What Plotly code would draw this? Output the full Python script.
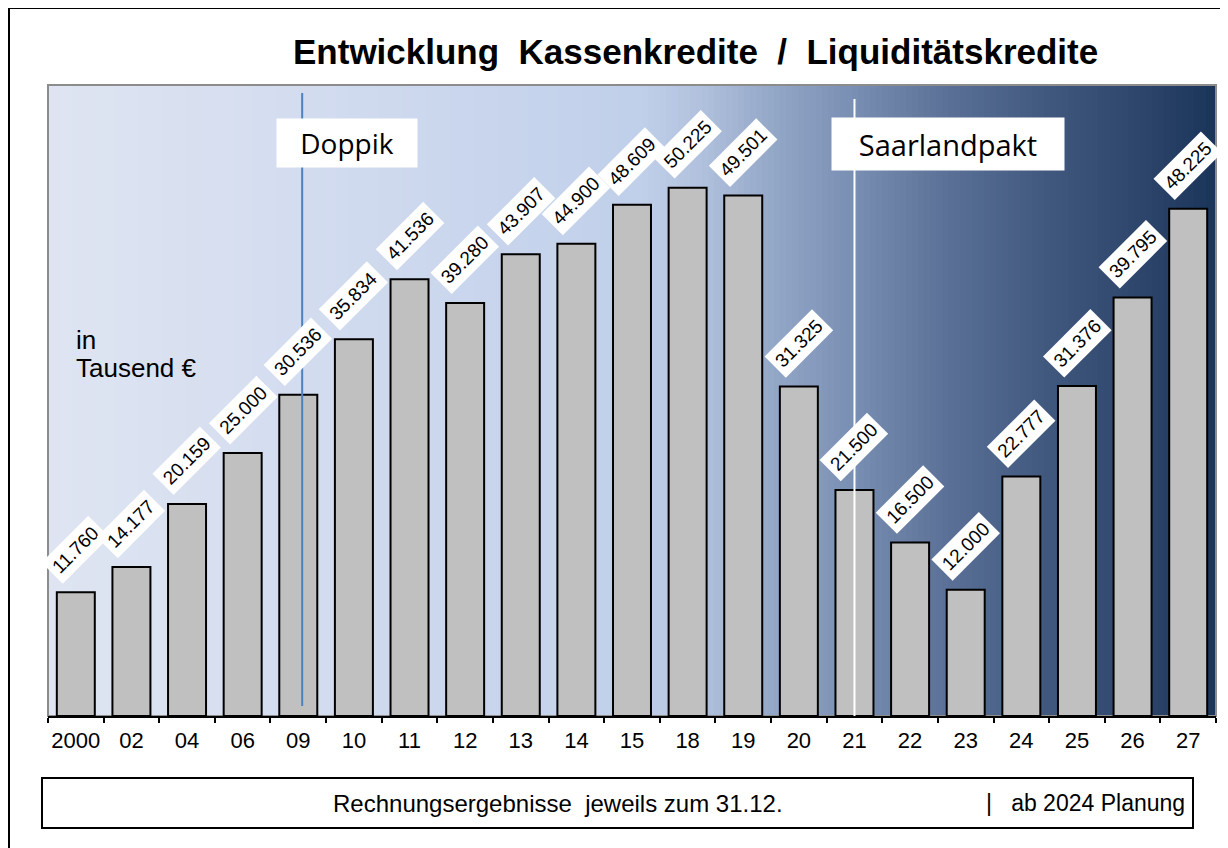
import numpy as np
import plotly.graph_objects as go

# ---- data (Tausend €) ----
years = ["2000", "02", "04", "06", "09", "10", "11", "12", "13", "14", "15",
         "18", "19", "20", "21", "22", "23", "24", "25", "26", "27"]
values = [11760, 14177, 20159, 25000, 30536, 35834, 41536, 39280, 43907, 44900, 48609,
          50225, 49501, 31325, 21500, 16500, 12000, 22777, 31376, 39795, 48225]
labels = [f"{v:,}".replace(",", ".") for v in values]

title_text = "Entwicklung\u00a0\u00a0Kassenkredite\u00a0\u00a0/\u00a0\u00a0Liquiditätskredite"
unit_line1 = "in"
unit_line2 = "Tausend\u00a0€"
note_left = "Rechnungsergebnisse\u00a0\u00a0jeweils zum\u00a031.12."
note_right = "|\u00a0\u00a0\u00a0ab 2024 Planung"

# ---- layout geometry (screen pixels; page body adds an 8px offset) ----
O = 8
W, H = 1220, 840
L, R, T, B = 48, 1216, 85, 716  # plot area edges on screen


def px(x):
    return (x - L) / (R - L)


def py(y):
    return (B - y) / (B - T)


# background gradient stops (screen x -> rgb)
grad_x = [48, 300, 500, 640, 700, 780, 850, 950, 1050, 1150, 1216]
grad_r = [223, 212, 200, 193, 178, 145, 122, 90, 65, 44, 26]
grad_g = [229, 221, 213, 208, 194, 165, 144, 112, 88, 68, 52]
grad_b = [242, 240, 237, 234, 222, 198, 180, 150, 126, 106, 90]

shapes = []
step = 6
for x0 in range(L, R, step):
    x1 = min(x0 + step + 1, R)
    xm = x0 + step / 2
    r = int(np.interp(xm, grad_x, grad_r))
    g = int(np.interp(xm, grad_x, grad_g))
    b = int(np.interp(xm, grad_x, grad_b))
    shapes.append(dict(type="rect", xref="paper", yref="paper", layer="below",
                       x0=px(x0), x1=px(x1), y0=0, y1=1,
                       fillcolor=f"rgb({r},{g},{b})", line=dict(width=0)))

# plot area frame
shapes.append(dict(type="rect", xref="paper", yref="paper", layer="below",
                   x0=0, x1=1, y0=0, y1=1, line=dict(color="#8c8c8c", width=2)))

# outer border (right and bottom edges lie outside the picture)
shapes.append(dict(type="rect", xref="paper", yref="paper", layer="above",
                   x0=px(9), x1=px(1260), y0=py(8), y1=py(900),
                   line=dict(color="black", width=2), fillcolor="rgba(0,0,0,0)"))

# Doppik line (blue) and Saarlandpakt line (white)
shapes.append(dict(type="line", xref="x", yref="paper", layer="above",
                   x0=4.07, x1=4.07, y0=py(93), y1=py(706),
                   line=dict(color="#4f81bd", width=2)))
shapes.append(dict(type="line", xref="x", yref="paper", layer="above",
                   x0=14.0, x1=14.0, y0=py(99), y1=0,
                   line=dict(color="white", width=2)))

# bottom note box
shapes.append(dict(type="rect", xref="paper", yref="paper", layer="above",
                   x0=px(42), x1=px(1193), y0=py(778), y1=py(828),
                   line=dict(color="black", width=2), fillcolor="white"))

fig = go.Figure()
fig.add_trace(go.Bar(
    x=years, y=values,
    marker=dict(color="#c0c0c0", line=dict(color="black", width=2)),
    hoverinfo="x+y",
))

annotations = []
for i, (v, lab) in enumerate(zip(values, labels)):
    annotations.append(dict(
        x=i, y=v, xref="x", yref="y", text=lab, showarrow=False,
        textangle=-45, xanchor="center", yanchor="bottom", yshift=8,
        bgcolor="white", borderpad=4,
        font=dict(family="Arial, Liberation Sans", size=19, color="black"),
    ))

annotations += [
    dict(x=px(695), y=py(52), xref="paper", yref="paper", text=f"<b>{title_text}</b>",
         showarrow=False, xanchor="center", yanchor="middle",
         font=dict(family="Arial, Liberation Sans", size=35, color="black")),
    dict(x=px(74), y=py(340), xref="paper", yref="paper", text=unit_line1,
         showarrow=False, xanchor="left", yanchor="middle", align="left",
         font=dict(family="Arial, Liberation Sans", size=26, color="black")),
    dict(x=px(74), y=py(368), xref="paper", yref="paper", text=unit_line2,
         showarrow=False, xanchor="left", yanchor="middle", align="left",
         font=dict(family="Arial, Liberation Sans", size=26, color="black")),
    dict(x=px(347), y=py(143), xref="paper", yref="paper", text="Doppik",
         showarrow=False, xanchor="center", yanchor="middle",
         width=140, height=48, bgcolor="white", borderpad=0,
         font=dict(family="Open Sans", size=28, color="black")),
    dict(x=px(948), y=py(144), xref="paper", yref="paper", text="Saarlandpakt",
         showarrow=False, xanchor="center", yanchor="middle",
         width=232, height=52, bgcolor="white", borderpad=0,
         font=dict(family="Open Sans", size=29, color="black")),
    dict(x=px(558), y=py(803), xref="paper", yref="paper", text=note_left,
         showarrow=False, xanchor="center", yanchor="middle",
         font=dict(family="Arial, Liberation Sans", size=24, color="black")),
    dict(x=px(984), y=py(803), xref="paper", yref="paper", text=note_right,
         showarrow=False, xanchor="left", yanchor="middle",
         font=dict(family="Arial, Liberation Sans", size=23, color="black")),
]

fig.update_layout(
    width=W, height=H, autosize=False,
    margin=dict(l=L - O, r=W - (R - O), t=T - O, b=H - (B - O), pad=0),
    paper_bgcolor="white", plot_bgcolor="rgba(0,0,0,0)",
    bargap=0.317, showlegend=False,
    shapes=shapes, annotations=annotations,
    xaxis=dict(type="category", range=[-0.5, len(years) - 0.5], automargin=False,
               tickangle=0, ticklabelstandoff=4,
               tickson="boundaries", ticks="outside", ticklen=5, tickwidth=2,
               tickcolor="black", showline=True, linecolor="black", linewidth=2,
               showgrid=False, zeroline=False,
               tickfont=dict(family="Arial, Liberation Sans", size=22, color="black")),
    yaxis=dict(range=[0, 60000], visible=False, showgrid=False, zeroline=False,
               automargin=False),
)

fig.write_html("out.html")
